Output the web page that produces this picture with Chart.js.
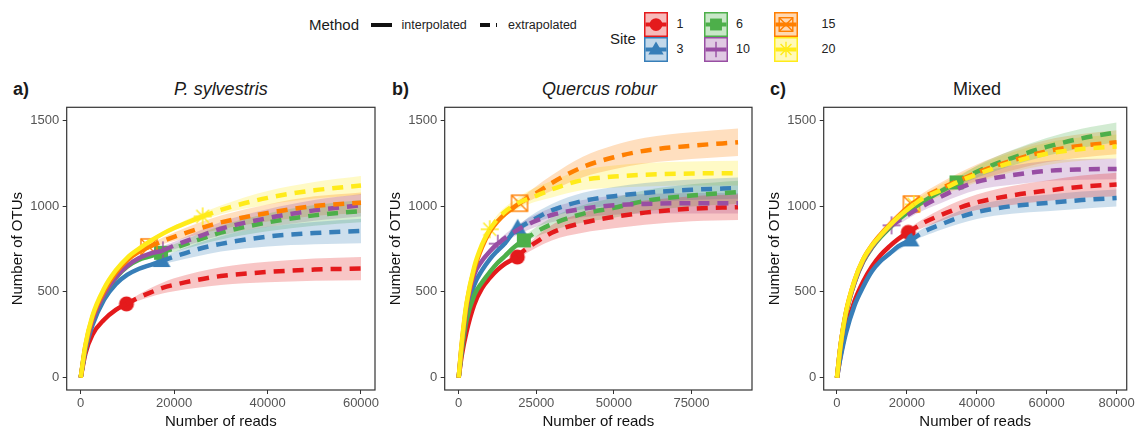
<!DOCTYPE html>
<html><head><meta charset="utf-8">
<script src="https://cdn.jsdelivr.net/npm/chart.js@4.4.1/dist/chart.umd.min.js"></script>
<style>
body{margin:0;width:1137px;height:433px;overflow:hidden;background:#fff;position:relative;font-family:"Liberation Sans",Arial,sans-serif;color:#1a1a1a}
.t{position:absolute;white-space:nowrap;line-height:1}
canvas{position:absolute}
.bar{position:absolute;background:#111}
</style></head><body>

<div class="t" style="left:309px;top:17px;font-size:15px">Method</div>
<div class="bar" style="left:371px;top:22.5px;width:21px;height:4px"></div>
<div class="t" style="left:401.5px;top:18.5px;font-size:12.5px;color:#222">interpolated</div>
<div class="bar" style="left:480px;top:22.5px;width:10px;height:4px"></div>
<div class="bar" style="left:496px;top:22.5px;width:1.2px;height:4px"></div>
<div class="t" style="left:508px;top:18.5px;font-size:12.5px;color:#222">extrapolated</div>
<div class="t" style="left:610px;top:31px;font-size:15px">Site</div>
<div id="keys"></div>

<div class="t" style="left:13px;top:79.5px;font-size:18px;font-weight:bold">a)</div>
<div class="t" style="left:70.8px;width:300px;text-align:center;top:79.5px;font-size:18px;font-style:italic">P. sylvestris</div>
<div class="t" style="left:392px;top:79.5px;font-size:18px;font-weight:bold">b)</div>
<div class="t" style="left:449.5px;width:300px;text-align:center;top:79.5px;font-size:18px;font-style:italic">Quercus robur</div>
<div class="t" style="left:770px;top:79.5px;font-size:18px;font-weight:bold">c)</div>
<div class="t" style="left:827px;width:300px;text-align:center;top:79.5px;font-size:18px">Mixed</div>

<canvas id="ca"></canvas>
<canvas id="cb"></canvas>
<canvas id="cc"></canvas>

<script>
// ---------- shared ----------
const sites = ['1', '3', '6', '10', '15', '20'];
const siteColors = ['#E41A1C', '#377EB8', '#4DAF4A', '#984EA3', '#FF7F00', '#FFEB1A'];
const siteShapes = ['circle', 'triangle', 'square', 'plus', 'sqx', 'ast'];
const yTicks = [0, 500, 1000, 1500];
const xTicksA = [0, 20000, 40000, 60000];
const xTicksB = [0, 25000, 50000, 75000];
const xTicksC = [0, 20000, 40000, 60000, 80000];

// ---------- panel a: P. sylvestris ----------
const readsA = [0, 1000, 2500, 5000, 7500, 10000, 12500, 15000, 17500, 20000, 25000, 30000, 40000, 50000, 60000];
const otuA1  = [0, 140, 250, 338, 395, 433, 468, 497, 523, 541, 570, 592, 616, 630, 636];
const otuA3  = [0, 160, 305, 455, 545, 600, 635, 658, 682, 705, 748, 780, 822, 843, 855];
const otuA6  = [0, 170, 330, 482, 582, 648, 688, 708, 731, 755, 802, 845, 905, 946, 971];
const otuA10 = [0, 172, 330, 485, 585, 652, 697, 725, 740, 770, 820, 868, 930, 975, 1005];
const otuA15 = [0, 185, 350, 505, 610, 685, 735, 767, 795, 821, 866, 905, 960, 1000, 1020];
const otuA20 = [0, 190, 360, 520, 625, 700, 752, 798, 838, 872, 928, 978, 1048, 1092, 1120];
const obsReadsA = [9800, 17300, 17200, 17600, 14600, 26100];
const obsOtuA   = [430, 680, 728, 742, 762, 940];
const ribReadsA = [0, 2500, 5000, 10000, 15000, 20000, 30000, 40000, 50000, 60000];
const loA1  = [0, 245, 330, 420, 472, 503, 540, 556, 565, 568];
const hiA1  = [0, 255, 346, 444, 522, 579, 644, 676, 695, 704];
const loA3  = [0, 300, 447, 590, 646, 677, 735, 765, 778, 784];
const hiA3  = [0, 310, 463, 610, 670, 733, 825, 879, 908, 926];
const loA6  = [0, 325, 474, 638, 696, 733, 805, 853, 886, 906];
const hiA6  = [0, 335, 490, 658, 720, 777, 885, 957, 1006, 1036];
const loA10 = [0, 325, 477, 642, 713, 748, 828, 878, 915, 940];
const hiA10 = [0, 335, 493, 662, 737, 792, 908, 982, 1035, 1070];
const loA15 = [0, 345, 497, 675, 753, 796, 865, 910, 943, 960];
const hiA15 = [0, 355, 513, 695, 781, 846, 945, 1010, 1057, 1080];
const loA20 = [0, 355, 512, 690, 786, 858, 953, 1008, 1044, 1065];
const hiA20 = [0, 365, 528, 710, 810, 886, 1003, 1088, 1140, 1175];

// ---------- panel b: Quercus robur ----------
const readsB = [0, 1000, 2500, 5000, 7500, 10000, 12500, 15000, 17500, 20000, 25000, 30000, 40000, 50000, 60000, 75000, 90000];
const otuB1  = [0, 130, 265, 425, 520, 580, 628, 665, 690, 725, 790, 845, 903, 937, 962, 985, 994];
const otuB3  = [0, 170, 370, 540, 625, 690, 740, 785, 845, 880, 930, 975, 1030, 1058, 1077, 1095, 1105];
const otuB6  = [0, 155, 330, 480, 555, 615, 668, 710, 755, 790, 850, 895, 955, 990, 1030, 1062, 1081];
const otuB10 = [0, 185, 400, 600, 680, 735, 780, 815, 845, 872, 915, 948, 985, 1005, 1013, 1017, 1017];
const otuB15 = [0, 195, 420, 630, 760, 850, 910, 955, 990, 1022, 1075, 1135, 1228, 1285, 1323, 1352, 1372];
const otuB20 = [0, 205, 430, 645, 775, 865, 925, 968, 1000, 1025, 1060, 1098, 1152, 1172, 1183, 1190, 1192];
const obsReadsB = [18900, 19000, 21000, 12600, 19600, 10000];
const obsOtuB   = [703, 870, 800, 781, 1017, 865];
const ribReadsB = [0, 2500, 5000, 10000, 20000, 30000, 40000, 50000, 60000, 75000, 90000];
const loB1  = [0, 259, 415, 566, 705, 800, 845, 871, 892, 912, 919];
const hiB1  = [0, 271, 435, 594, 745, 890, 961, 1003, 1032, 1058, 1069];
const loB3  = [0, 364, 530, 676, 860, 937, 982, 1004, 1020, 1035, 1043];
const hiB3  = [0, 376, 550, 704, 900, 1013, 1078, 1112, 1134, 1155, 1167];
const loB6  = [0, 324, 470, 601, 772, 857, 905, 932, 968, 997, 1014];
const hiB6  = [0, 336, 490, 629, 808, 933, 1005, 1048, 1092, 1127, 1148];
const loB10 = [0, 394, 590, 721, 842, 906, 935, 950, 955, 957, 957];
const hiB10 = [0, 406, 610, 749, 902, 990, 1035, 1060, 1071, 1077, 1077];
const loB15 = [0, 414, 620, 836, 1000, 1090, 1168, 1215, 1248, 1274, 1292];
const hiB15 = [0, 426, 640, 864, 1044, 1180, 1288, 1355, 1398, 1430, 1452];
const loB20 = [0, 422, 633, 847, 990, 1050, 1094, 1107, 1115, 1120, 1120];
const hiB20 = [0, 438, 657, 883, 1060, 1146, 1210, 1237, 1251, 1260, 1264];

// ---------- panel c: Mixed ----------
const readsC = [0, 1000, 2500, 5000, 7500, 10000, 12500, 15000, 17500, 20000, 25000, 30000, 35000, 40000, 50000, 60000, 70000, 80000];
const otuC1  = [0, 125, 275, 445, 560, 648, 715, 765, 808, 842, 905, 950, 990, 1022, 1062, 1090, 1113, 1126];
const otuC3  = [0, 115, 255, 420, 530, 620, 680, 722, 765, 792, 852, 895, 935, 965, 1000, 1018, 1035, 1047];
const otuC6  = [0, 180, 365, 552, 675, 757, 820, 872, 920, 960, 1030, 1090, 1145, 1200, 1280, 1345, 1395, 1430];
const otuC10 = [0, 182, 368, 555, 680, 762, 828, 880, 912, 945, 1005, 1058, 1105, 1142, 1180, 1205, 1214, 1217];
const otuC15 = [0, 185, 375, 565, 690, 772, 835, 890, 940, 990, 1055, 1105, 1150, 1195, 1265, 1320, 1352, 1372];
const otuC20 = [0, 185, 375, 565, 690, 770, 830, 885, 935, 978, 1050, 1095, 1145, 1185, 1255, 1305, 1333, 1347];
const obsReadsC = [20400, 21000, 34200, 15600, 21300, 22000];
const obsOtuC   = [847, 800, 1138, 888, 1012, 1010];
const ribReadsC = [0, 2500, 5000, 10000, 20000, 30000, 40000, 50000, 60000, 70000, 80000];
const loC1  = [0, 269, 435, 634, 824, 915, 977, 1007, 1030, 1048, 1058];
const hiC1  = [0, 281, 455, 662, 860, 985, 1067, 1117, 1150, 1178, 1194];
const loC3  = [0, 249, 410, 606, 774, 863, 925, 955, 970, 985, 997];
const hiC3  = [0, 261, 430, 634, 810, 927, 1005, 1045, 1066, 1085, 1097];
const loC6  = [0, 359, 542, 743, 944, 1072, 1165, 1235, 1293, 1339, 1372];
const hiC6  = [0, 371, 562, 771, 976, 1108, 1235, 1325, 1397, 1451, 1488];
const loC10 = [0, 362, 545, 748, 923, 1020, 1094, 1125, 1147, 1154, 1157];
const hiC10 = [0, 374, 565, 776, 967, 1096, 1190, 1235, 1263, 1274, 1277];
const loC15 = [0, 369, 555, 758, 974, 1070, 1147, 1207, 1255, 1284, 1302];
const hiC15 = [0, 381, 575, 786, 1006, 1140, 1243, 1323, 1385, 1420, 1442];
const loC20 = [0, 369, 555, 756, 962, 1060, 1137, 1197, 1240, 1265, 1277];
const hiC20 = [0, 381, 575, 784, 994, 1130, 1233, 1313, 1370, 1401, 1417];

// ---------- helpers ----------
function rgba(hex, a) {
  const n = parseInt(hex.slice(1), 16);
  return `rgba(${(n >> 16) & 255},${(n >> 8) & 255},${n & 255},${a})`;
}
function drawSymbol(ctx, shape, cx, cy, color, k) {
  k = k || 1;
  ctx.save();
  ctx.fillStyle = color; ctx.strokeStyle = color; ctx.lineWidth = 1.4; ctx.lineCap = 'butt';
  ctx.beginPath();
  if (shape === 'circle') { ctx.arc(cx, cy, 7.5 * k, 0, Math.PI * 2); ctx.fill(); }
  else if (shape === 'triangle') { ctx.moveTo(cx, cy - 9.5 * k); ctx.lineTo(cx + 9 * k, cy + 6 * k); ctx.lineTo(cx - 9 * k, cy + 6 * k); ctx.closePath(); ctx.fill(); }
  else if (shape === 'square') { ctx.fillRect(cx - 7 * k, cy - 7 * k, 14 * k, 14 * k); }
  else if (shape === 'plus') { ctx.moveTo(cx - 9 * k, cy); ctx.lineTo(cx + 9 * k, cy); ctx.moveTo(cx, cy - 9 * k); ctx.lineTo(cx, cy + 9 * k); ctx.stroke(); }
  else if (shape === 'sqx') { const h = 8 * k; ctx.strokeRect(cx - h, cy - h, 2 * h, 2 * h); ctx.moveTo(cx - h, cy - h); ctx.lineTo(cx + h, cy + h); ctx.moveTo(cx + h, cy - h); ctx.lineTo(cx - h, cy + h); ctx.stroke(); }
  else if (shape === 'ast') { const h = 9 * k, d = 6.4 * k; ctx.moveTo(cx - h, cy); ctx.lineTo(cx + h, cy); ctx.moveTo(cx, cy - h); ctx.lineTo(cx, cy + h); ctx.moveTo(cx - d, cy - d); ctx.lineTo(cx + d, cy + d); ctx.moveTo(cx + d, cy - d); ctx.lineTo(cx - d, cy + d); ctx.stroke(); }
  ctx.restore();
}
function markerCanvas(shape, color) {
  const c = document.createElement('canvas'); c.width = 24; c.height = 24;
  drawSymbol(c.getContext('2d'), shape, 12, 12, color, 1);
  return c;
}

// ---------- legend keys ----------
const keyCols = [644, 703.5, 773.5];
const keyRows = [11.7, 36.7];
const keysDiv = document.getElementById('keys');
sites.forEach((s, i) => {
  const col = Math.floor(i / 2), row = i % 2;
  const c = document.createElement('canvas');
  c.width = 24; c.height = 25;
  c.style.left = keyCols[col] + 'px'; c.style.top = keyRows[row] + 'px';
  const ctx = c.getContext('2d');
  ctx.fillStyle = rgba(siteColors[i], 0.3); ctx.fillRect(0, 0, 24, 25);
  ctx.strokeStyle = siteColors[i]; ctx.lineWidth = 1.5; ctx.strokeRect(0.75, 0.75, 22.5, 23.5);
  ctx.lineWidth = 4; ctx.beginPath(); ctx.moveTo(1.5, 12.5); ctx.lineTo(22.5, 12.5); ctx.stroke();
  drawSymbol(ctx, siteShapes[i], 12, 12.5, siteColors[i], 0.85);
  keysDiv.appendChild(c);
  const t = document.createElement('div');
  t.className = 't'; t.textContent = s;
  t.style.fontSize = '12.5px'; t.style.color = '#222';
  t.style.left = [676.5, 736, 821.5][col] + 'px';
  t.style.top = (keyRows[row] + 12.5 - 6.2) + 'px';
  keysDiv.appendChild(t);
});

// ---------- charts ----------
Chart.defaults.font.family = '"Liberation Sans", Arial, sans-serif';

const panels = [
  { id: 'ca', left: 0, plotW: 308.3, padR: 25, xMin: -3000, xMax: 63000, xTicks: xTicksA,
    reads: readsA, otus: [otuA1, otuA3, otuA6, otuA10, otuA15, otuA20], obsX: obsReadsA, obsY: obsOtuA,
    ribX: ribReadsA, lo: [loA1, loA3, loA6, loA10, loA15, loA20], hi: [hiA1, hiA3, hiA6, hiA10, hiA15, hiA20] },
  { id: 'cb', left: 378.3, plotW: 307.3, padR: 25, xMin: -4500, xMax: 94500, xTicks: xTicksB,
    reads: readsB, otus: [otuB1, otuB3, otuB6, otuB10, otuB15, otuB20], obsX: obsReadsB, obsY: obsOtuB,
    ribX: ribReadsB, lo: [loB1, loB3, loB6, loB10, loB15, loB20], hi: [hiB1, hiB3, hiB6, hiB10, hiB15, hiB20] },
  { id: 'cc', left: 757, plotW: 303.3, padR: 10, xMin: -3800, xMax: 82900, xTicks: xTicksC,
    reads: readsC, otus: [otuC1, otuC3, otuC6, otuC10, otuC15, otuC20], obsX: obsReadsC, obsY: obsOtuC,
    ribX: ribReadsC, lo: [loC1, loC3, loC6, loC10, loC15, loC20], hi: [hiC1, hiC3, hiC6, hiC10, hiC15, hiC20] }
];

const Y_AXIS_W = 66.7, X_AXIS_H = 43, TOP = 96, PAD_T = 0;

const boxPlugin = {
  id: 'box',
  afterDatasetsDraw(chart) {
    const { ctx, chartArea: a } = chart;
    ctx.save(); ctx.strokeStyle = '#333'; ctx.lineWidth = 1.2;
    ctx.strokeRect(a.left, a.top, a.right - a.left, a.bottom - a.top);
    ctx.restore();
  }
};

panels.forEach(P => {
  const cv = document.getElementById(P.id);
  const W = Math.round(Y_AXIS_W + P.plotW + P.padR);
  const H = 433 - TOP;
  cv.width = W; cv.height = H;
  cv.style.left = P.left + 'px'; cv.style.top = TOP + 'px';
  cv.style.width = W + 'px'; cv.style.height = H + 'px';

  const ds = [];
  // ribbons
  sites.forEach((s, i) => {
    ds.push({ type: 'line', data: P.ribX.map((x, k) => ({ x, y: P.lo[i][k] })), borderWidth: 0, pointRadius: 0,
      fill: false, cubicInterpolationMode: 'monotone', order: 300 });
    ds.push({ type: 'line', data: P.ribX.map((x, k) => ({ x, y: P.hi[i][k] })), borderWidth: 0, pointRadius: 0,
      fill: '-1', backgroundColor: rgba(siteColors[i], 0.25), cubicInterpolationMode: 'monotone', order: 300 });
  });
  // points
  sites.forEach((s, i) => {
    ds.push({ type: 'line', showLine: false, data: [{ x: P.obsX[i], y: P.obsY[i] }],
      pointStyle: markerCanvas(siteShapes[i], siteColors[i]), pointRadius: 9, order: 200 - i });
  });
  // lines
  sites.forEach((s, i) => {
    const ox = P.obsX[i], oy = P.obsY[i];
    const interp = [], extrap = [{ x: ox, y: oy }];
    P.reads.forEach((x, k) => {
      if (x < ox) interp.push({ x, y: P.otus[i][k] });
      else if (x > ox) extrap.push({ x, y: P.otus[i][k] });
    });
    interp.push({ x: ox, y: oy });
    ds.push({ type: 'line', data: interp, borderColor: siteColors[i], borderWidth: 4.5, pointRadius: 0,
      fill: false, cubicInterpolationMode: 'monotone', borderCapStyle: 'butt', order: 100 - i });
    ds.push({ type: 'line', data: extrap, borderColor: siteColors[i], borderWidth: 4.5, pointRadius: 0,
      fill: false, borderDash: [11, 8], cubicInterpolationMode: 'monotone', borderCapStyle: 'butt', order: 100 - i });
  });

  new Chart(cv, {
    type: 'line',
    data: { datasets: ds },
    plugins: [boxPlugin],
    options: {
      responsive: false, animation: false, events: [], devicePixelRatio: 1,
      layout: { padding: { top: PAD_T, right: P.padR, left: 0, bottom: 0 } },
      plugins: { legend: { display: false }, tooltip: { enabled: false }, filler: { drawTime: 'beforeDatasetsDraw' } },
      scales: {
        x: {
          type: 'linear', min: P.xMin, max: P.xMax,
          afterBuildTicks: sc => { sc.ticks = P.xTicks.map(v => ({ value: v })); },
          afterFit: sc => { sc.height = X_AXIS_H; },
          grid: { display: true, drawOnChartArea: false, drawTicks: true, tickLength: 4, color: '#333', lineWidth: 1 },
          border: { display: false },
          ticks: { color: '#555', font: { size: 13 }, padding: 2, maxRotation: 0, autoSkip: false, callback: v => String(v) },
          title: { display: true, text: 'Number of reads', color: '#111', font: { size: 15 }, padding: { top: 0, bottom: 2 } }
        },
        y: {
          type: 'linear', min: -72, max: 1576,
          afterBuildTicks: sc => { sc.ticks = yTicks.map(v => ({ value: v })); },
          afterFit: sc => { sc.width = Y_AXIS_W; },
          grid: { display: true, drawOnChartArea: false, drawTicks: true, tickLength: 4, color: '#333', lineWidth: 1 },
          border: { display: false },
          ticks: { color: '#555', font: { size: 13 }, padding: 3.5, autoSkip: false, callback: v => String(v) },
          title: { display: true, text: 'Number of OTUs', color: '#111', font: { size: 15 }, padding: { top: 9, bottom: 0 } }
        }
      }
    }
  });
});
</script>
</body></html>
